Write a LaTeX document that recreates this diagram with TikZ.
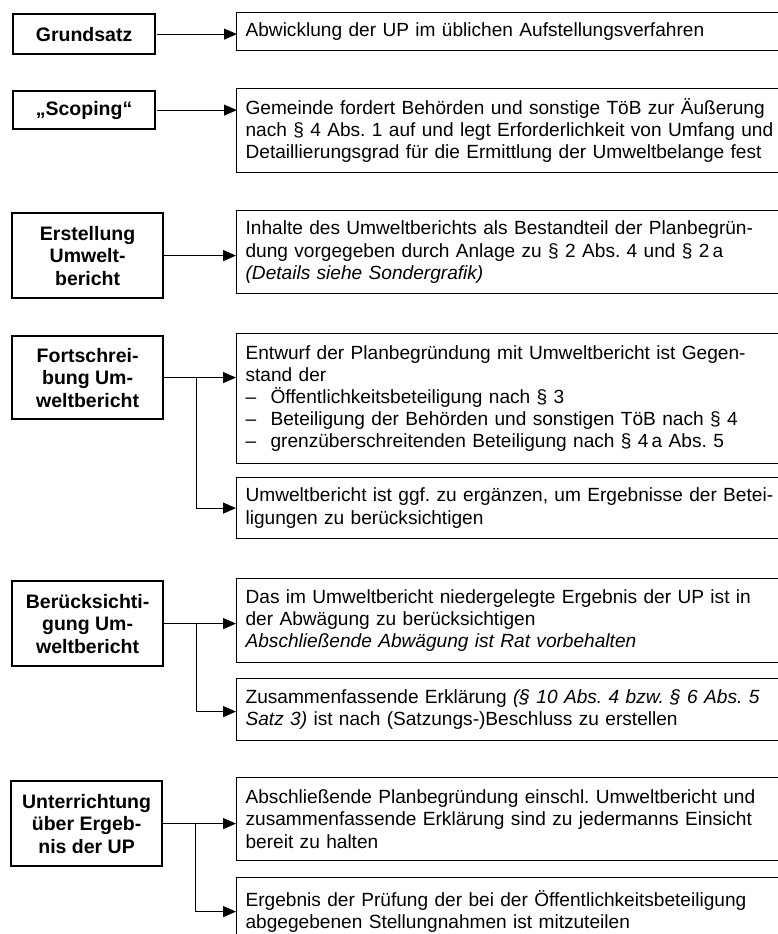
\documentclass[tikz,border=0pt]{standalone}
\usepackage{fontspec}
\setmainfont{Liberation Sans}
\usetikzlibrary{arrows.meta}
\frenchspacing
\tikzset{
  lbox/.style={draw, line width=2.2pt, anchor=north west, align=center, inner sep=0pt,
    font=\fontsize{19.5}{22.5}\selectfont\bfseries},
  rbox/.style={draw, line width=1.2pt, anchor=north west, align=left, inner xsep=9pt, inner ysep=0pt,
    text width=560pt, font=\fontsize{19.1}{22.2}\selectfont},
  arr/.style={line width=1.1pt, -{Triangle[length=13pt,width=11pt]}},
}
\newcommand{\dashitem}{\makebox[25pt][l]{–}}
\begin{document}
\begin{tikzpicture}[x=1pt,y=-1pt]
\frenchspacing
\useasboundingbox (0,0) rectangle (778,934);
\clip (0,0) rectangle (778,934);
% left boxes
\node[lbox, minimum width=142pt, minimum height=40pt] (l1) at (12,13) {Grundsatz};
\node[lbox, minimum width=142pt, minimum height=38pt] (l2) at (12,90) {„Scoping“};
\node[lbox, minimum width=151pt, minimum height=85pt] (l3) at (11,212) {Erstellung\\Umwelt-\\bericht};
\node[lbox, minimum width=151pt, minimum height=83pt] (l4) at (11,335) {Fortschrei-\\bung Um-\\weltbericht};
\node[lbox, minimum width=151pt, minimum height=85pt] (l5) at (11,580) {Berücksichti-\\gung Um-\\weltbericht};
\node[lbox, minimum width=151pt, minimum height=85pt] (l6) at (10,780) {Unterrichtung\\über Ergeb-\\nis der UP};
% right boxes
\node[rbox, minimum height=38pt] (r1) at (236,12) {Abwicklung der UP im üblichen Aufstellungsverfahren};
\node[rbox, minimum height=84pt] (r2) at (236,88) {Gemeinde fordert Behörden und sonstige TöB zur Äußerung\\nach § 4 Abs. 1 auf und legt Erforderlichkeit von Umfang und\\Detaillierungsgrad für die Ermittlung der Umweltbelange fest};
\node[rbox, minimum height=83pt] (r3) at (236,210) {Inhalte des Umweltberichts als Bestandteil der Planbegrün-\\dung vorgegeben durch Anlage zu § 2 Abs. 4 und § 2\,a\\\textit{(Details siehe Sondergrafik)}};
\node[rbox, minimum height=130pt] (r4a) at (236,333) {Entwurf der Planbegründung mit Umweltbericht ist Gegen-\\stand der\\\dashitem Öffentlichkeitsbeteiligung nach § 3\\\dashitem Beteiligung der Behörden und sonstigen TöB nach § 4\\\dashitem grenzüberschreitenden Beteiligung nach § 4\,a Abs. 5};
\node[rbox, minimum height=61pt] (r4b) at (236,477) {Umweltbericht ist ggf. zu ergänzen, um Ergebnisse der Betei-\\ligungen zu berücksichtigen};
\node[rbox, minimum height=84pt] (r5a) at (236,578) {Das im Umweltbericht niedergelegte Ergebnis der UP ist in\\der Abwägung zu berücksichtigen\\\textit{Abschließende Abwägung ist Rat vorbehalten}};
\node[rbox, minimum height=62pt] (r5b) at (236,678) {Zusammenfassende Erklärung \textit{(§ 10 Abs. 4 bzw. § 6 Abs. 5}\\\textit{Satz 3)} ist nach (Satzungs-)Beschluss zu erstellen};
\node[rbox, minimum height=83pt] (r6a) at (236,777) {Abschließende Planbegründung einschl. Umweltbericht und\\zusammenfassende Erklärung sind zu jedermanns Einsicht\\bereit zu halten};
\node[rbox, minimum height=68pt] (r6b) at (236,877) {Ergebnis der Prüfung der bei der Öffentlichkeitsbeteiligung\\abgegebenen Stellungnahmen ist mitzuteilen};
% connectors
\draw[arr] ([xshift=1pt]l1.east) -- ([xshift=1pt]l1.east -| r1.west);
\draw[arr] ([xshift=1pt]l2.east) -- ([xshift=1pt]l2.east -| r2.west);
\draw[arr] (l3.east) -- (l3.east -| r3.west);
\draw[arr] (l4.east) -- (l4.east -| r4a.west);
\draw[arr] ([xshift=32pt]l4.east) |- (r4b.west);
\draw[arr] (l5.east) -- (l5.east -| r5a.west);
\draw[arr] ([xshift=32pt]l5.east) |- ([yshift=-2pt]r5b.west);
\draw[arr] (l6.east) -- (l6.east -| r6a.west);
\draw[arr] ([xshift=32pt]l6.east) |- (r6b.west);
\end{tikzpicture}
\end{document}
